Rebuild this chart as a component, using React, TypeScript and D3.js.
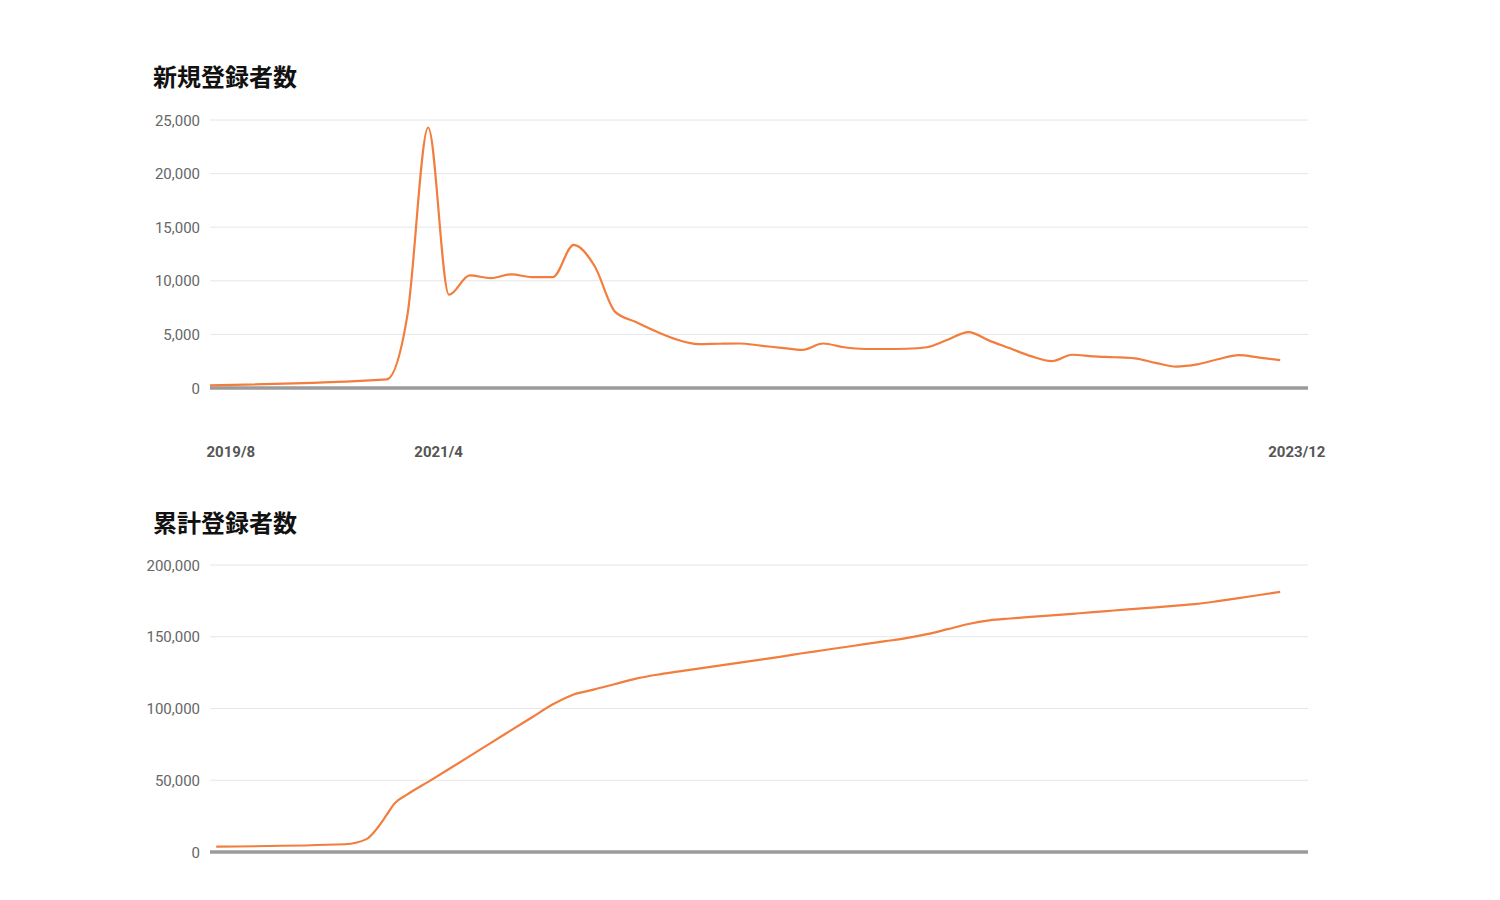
import React from "react";
import * as d3 from "d3";

// ---- Data (x positions are in point-index units) ----
const newT: number[] = [0, ...d3.range(8.5, 52, 1)];
const newVals: number[] = [
  250, 800, 6800, 24300, 8700, 10500, 10250, 10600, 10350, 10350, 13350,
  11400, 7100, 6150, 5250, 4500, 4100, 4130, 4150, 3950, 3750,
  3550, 4150, 3800, 3640, 3640, 3660, 3800, 4500, 5220, 4420,
  3700, 2970, 2500, 3100, 2950, 2870, 2770, 2350, 2000, 2200,
  2680, 3070, 2840, 2600,
];

const cumT: number[] = [0.3, 6.5, 7.5, 8.5, 8.85, ...d3.range(9.5, 52, 1)];
const cumVals: number[] = [
  3700, 5400, 8800, 25800, 33400, 40200, 48900, 57800, 66800, 75900, 84900, 93900,
  102900, 109800, 113300, 117100, 120800, 123500, 125700, 127800, 129900, 132000,
  134100, 136200, 138500, 140600, 142700, 144800, 146900, 149000, 151800, 155300,
  158900, 161400, 162700, 163800, 164900, 166000, 167100, 168300, 169400, 170500,
  171700, 172900, 174800, 176900, 179100, 181300,
];

const newTicks: number[] = [0, 5000, 10000, 15000, 20000, 25000];
const cumTicks: number[] = [0, 50000, 100000, 150000, 200000];
const xTickT: number[] = [1, 11, 52.3];
const xTickLabels: string[] = ["2019/8", "2021/4", "2023/12"];

const title1 = "新規登録者数";
const title2 = "累計登録者数";

const ORANGE = "#f27d3d";
const GRID = "#e6e6e6";
const BASE = "#9b9b9b";

export default function App() {
  const x = d3.scaleLinear().domain([0, 51.5]).range([210, 1280.2]);
  const y1 = d3.scaleLinear().domain([0, 25000]).range([388, 120]);
  const y2 = d3.scaleLinear().domain([0, 200000]).range([852, 565]);
  const fmt = d3.format(",");

  const line1 = d3
    .line<number>()
    .x((_, i) => x(newT[i]))
    .y((d) => y1(d))
    .curve(d3.curveMonotoneX);
  const line2 = d3
    .line<number>()
    .x((_, i) => x(cumT[i]))
    .y((d) => y2(d))
    .curve(d3.curveMonotoneX);

  const gridX0 = 210;
  const gridX1 = 1308;

  const tickFont = "Roboto, 'Noto Sans', sans-serif";

  return (
    <svg
      width={1500}
      height={900}
      style={{ position: "absolute", left: 0, top: 0, background: "#fff" }}
    >
      {/* Titles */}
      <text
        x={153}
        y={86}
        fontFamily="'Noto Sans CJK JP', sans-serif"
        fontWeight={700}
        fontSize={24}
        fill="#111"
      >
        {title1}
      </text>
      <text
        x={153}
        y={532}
        fontFamily="'Noto Sans CJK JP', sans-serif"
        fontWeight={700}
        fontSize={24}
        fill="#111"
      >
        {title2}
      </text>

      {/* Top chart grid */}
      {newTicks.map((t) => (
        <g key={"g1" + t}>
          {t !== 0 && (
            <line x1={gridX0} x2={gridX1} y1={y1(t)} y2={y1(t)} stroke={GRID} strokeWidth={1} />
          )}
          <text
            x={200}
            y={y1(t) + 5.5}
            textAnchor="end"
            fontFamily={tickFont}
            fontSize={15}
            fill="#666"
          >
            {fmt(t)}
          </text>
        </g>
      ))}
      <line x1={gridX0} x2={gridX1} y1={y1(0)} y2={y1(0)} stroke={BASE} strokeWidth={3.5} />
      <path d={line1(newVals) || ""} fill="none" stroke={ORANGE} strokeWidth={2.2} strokeLinejoin="round" />

      {/* X labels */}
      {xTickT.map((t, i) => (
        <text
          key={"xl" + i}
          x={x(t)}
          y={457}
          textAnchor="middle"
          fontFamily={tickFont}
          fontWeight={700}
          fontSize={15}
          fill="#555"
        >
          {xTickLabels[i]}
        </text>
      ))}

      {/* Bottom chart grid */}
      {cumTicks.map((t) => (
        <g key={"g2" + t}>
          {t !== 0 && (
            <line x1={gridX0} x2={gridX1} y1={y2(t)} y2={y2(t)} stroke={GRID} strokeWidth={1} />
          )}
          <text
            x={200}
            y={y2(t) + 5.5}
            textAnchor="end"
            fontFamily={tickFont}
            fontSize={15}
            fill="#666"
          >
            {fmt(t)}
          </text>
        </g>
      ))}
      <line x1={gridX0} x2={gridX1} y1={y2(0)} y2={y2(0)} stroke={BASE} strokeWidth={3.5} />
      <path d={line2(cumVals) || ""} fill="none" stroke={ORANGE} strokeWidth={2.2} strokeLinejoin="round" />
    </svg>
  );
}
